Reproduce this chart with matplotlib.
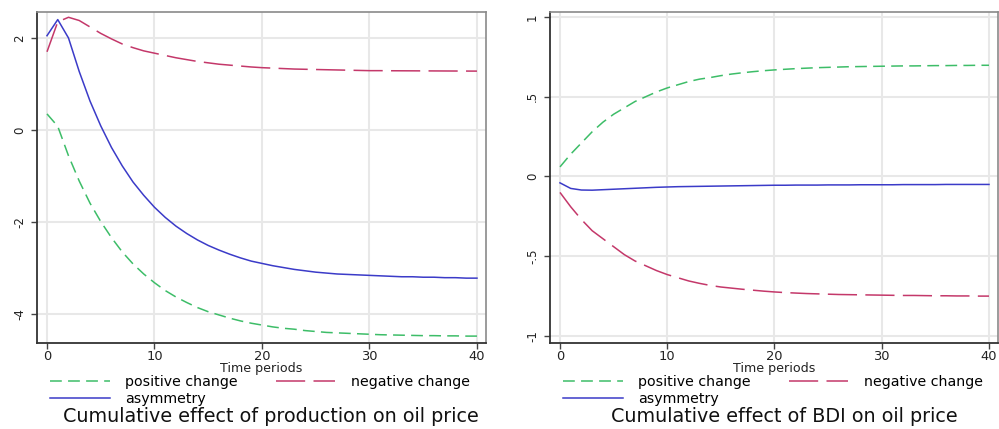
import matplotlib.pyplot as plt

plt.rcParams['font.family'] = ['DejaVu Sans']
plt.rcParams['lines.scale_dashes'] = False

periods = list(range(41))

# cumulative effect of production on oil price
prod_pos = [0.35, 0.08, -0.56, -1.11, -1.59, -1.99, -2.34, -2.65, -2.91, -3.13,
            -3.32, -3.49, -3.63, -3.75, -3.86, -3.95, -4.02, -4.09, -4.15, -4.20,
            -4.24, -4.28, -4.31, -4.33, -4.36, -4.38, -4.40, -4.41, -4.42, -4.43,
            -4.44, -4.45, -4.455, -4.46, -4.465, -4.47, -4.47, -4.475, -4.475, -4.48, -4.48]
prod_neg = [1.70, 2.35, 2.45, 2.38, 2.24, 2.10, 1.98, 1.87, 1.79, 1.72,
            1.67, 1.62, 1.57, 1.53, 1.49, 1.46, 1.43, 1.41, 1.39, 1.37,
            1.355, 1.345, 1.335, 1.325, 1.32, 1.315, 1.31, 1.305, 1.30, 1.295,
            1.29, 1.29, 1.288, 1.287, 1.286, 1.285, 1.284, 1.283, 1.282, 1.281, 1.28]
prod_asym = [2.05, 2.40, 2.00, 1.27, 0.63, 0.09, -0.38, -0.78, -1.13, -1.42,
             -1.68, -1.90, -2.09, -2.25, -2.39, -2.51, -2.61, -2.70, -2.78, -2.85,
             -2.90, -2.95, -2.99, -3.03, -3.06, -3.09, -3.11, -3.13, -3.14, -3.15,
             -3.16, -3.17, -3.18, -3.19, -3.19, -3.20, -3.20, -3.21, -3.21, -3.22, -3.22]

# cumulative effect of BDI on oil price
bdi_pos = [0.06, 0.14, 0.21, 0.28, 0.34, 0.39, 0.43, 0.47, 0.50, 0.53,
           0.555, 0.575, 0.595, 0.61, 0.62, 0.632, 0.642, 0.65, 0.657, 0.663,
           0.668, 0.672, 0.676, 0.679, 0.682, 0.684, 0.686, 0.688, 0.689, 0.690,
           0.691, 0.692, 0.693, 0.693, 0.694, 0.695, 0.695, 0.696, 0.696, 0.697, 0.697]
bdi_neg = [-0.10, -0.19, -0.27, -0.34, -0.39, -0.44, -0.49, -0.53, -0.56, -0.59,
           -0.615, -0.635, -0.655, -0.67, -0.683, -0.693, -0.70, -0.707, -0.713, -0.719,
           -0.724, -0.728, -0.731, -0.734, -0.736, -0.738, -0.74, -0.741, -0.742, -0.743,
           -0.744, -0.745, -0.746, -0.746, -0.747, -0.748, -0.748, -0.749, -0.749, -0.75, -0.75]
bdi_asym = [-0.04, -0.075, -0.085, -0.086, -0.083, -0.080, -0.077, -0.074, -0.071, -0.068,
            -0.066, -0.064, -0.063, -0.062, -0.061, -0.060, -0.059, -0.058, -0.057, -0.056,
            -0.055, -0.055, -0.054, -0.054, -0.054, -0.053, -0.053, -0.053, -0.052, -0.052,
            -0.052, -0.052, -0.051, -0.051, -0.051, -0.051, -0.050, -0.050, -0.050, -0.050, -0.050]

xticks = [0, 10, 20, 30, 40]
prod_yticks = [2, 0, -2, -4]
prod_ylabels = ['2', '0', '-2', '-4']
bdi_yticks = [1, 0.5, 0, -0.5, -1]
bdi_ylabels = ['1', '.5', '0', '-.5', '-1']

labels = ['positive change', 'negative change', 'asymmetry']
titles = ['Cumulative effect of production on oil price',
          'Cumulative effect of BDI on oil price']

green = '#3dbd68'
red = '#c4386a'
blue = '#3b3bc8'

W, H = 999, 429
fig = plt.figure(figsize=(W / 100, H / 100), dpi=100)


def panel(x0, x1, pos, neg, asym, yticks, ylabels, ylim, title, title_x):
    ax = fig.add_axes([x0 / W, 1 - 343 / H, (x1 - x0) / W, 331 / H])
    lp, = ax.plot(periods, pos, color=green, lw=1.1, dashes=(8.5, 4.5))
    ln, = ax.plot(periods, neg, color=red, lw=1.1, dashes=(21, 6))
    la, = ax.plot(periods, asym, color=blue, lw=1.1)
    ax.set_xlim(-0.93, 40.84)
    ax.set_ylim(*ylim)
    ax.set_xticks(xticks)
    ax.set_yticks(yticks)
    ax.set_yticklabels(ylabels)
    ax.grid(True, color='#e8e8e8', lw=1.5)
    ax.set_axisbelow(True)
    ax.tick_params(axis='x', length=4, width=1, color='#444444', pad=1,
                   labelsize=9.4, labelcolor='#222222')
    ax.tick_params(axis='y', length=4, width=1, color='#444444', pad=4,
                   labelsize=8.5, labelcolor='#222222', labelrotation=90)
    for lab in ax.get_yticklabels():
        lab.set_verticalalignment('center')
    for side in ['left', 'bottom']:
        ax.spines[side].set_color('#333333')
        ax.spines[side].set_linewidth(1.3)
    for side in ['top', 'right']:
        ax.spines[side].set_color('#8a8a8a')
        ax.spines[side].set_linewidth(1.2)
    ax.set_xlabel('Time periods', fontsize=9.1, color='#222222', va='top')
    ax.xaxis.set_label_coords(0.5, -0.056)
    ax.legend([lp, la, ln], [labels[0], labels[2], labels[1]], ncol=2,
              loc='upper left', bbox_to_anchor=((x0 + 13) / W, 1 - 375 / H),
              bbox_transform=fig.transFigure, frameon=False, fontsize=10.2,
              handlelength=4.2, handletextpad=1.1, columnspacing=2.7,
              labelspacing=0.2, borderpad=0, borderaxespad=0)
    fig.text(title_x / W, 1 - 417 / H, title, ha='center', va='center',
             fontsize=13.8, color='#111111')
    return ax


panel(37, 486, prod_pos, prod_neg, prod_asym, prod_yticks, prod_ylabels,
      (-4.63, 2.565), titles[0], 271)
panel(550, 998, bdi_pos, bdi_neg, bdi_asym, bdi_yticks, bdi_ylabels,
      (-1.044, 1.031), titles[1], 784)

plt.savefig('out.png', dpi=100)
plt.close()
